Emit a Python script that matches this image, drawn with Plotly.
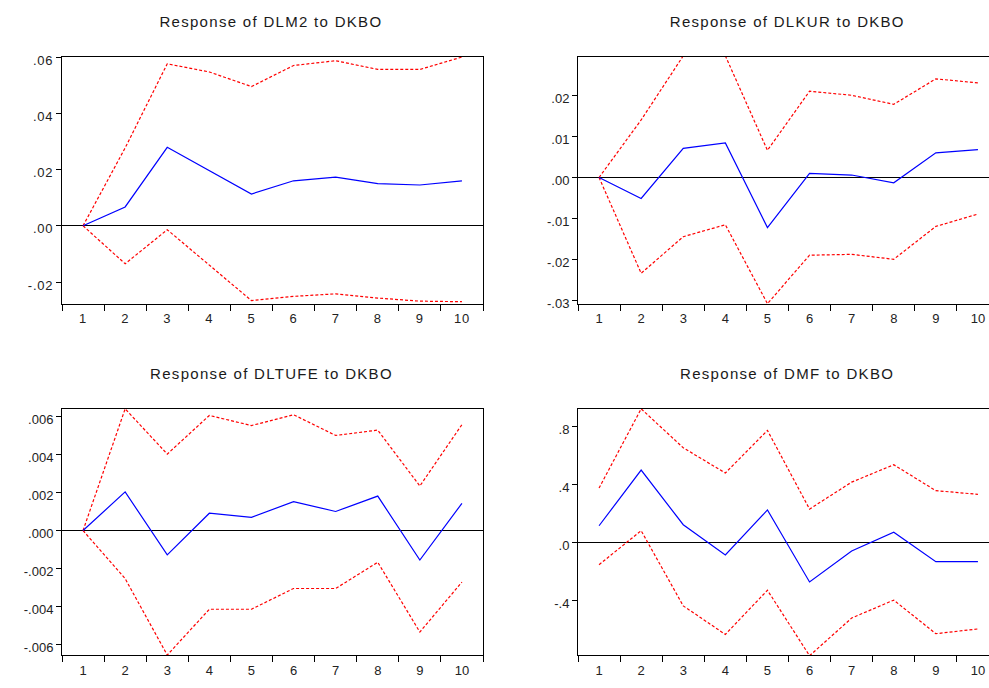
import plotly.graph_objects as go

W, H = 989, 688

periods = ["1", "2", "3", "4", "5", "6", "7", "8", "9", "10"]

titles = ["Response of DLM2 to DKBO", "Response of DLKUR to DKBO",
          "Response of DLTUFE to DKBO", "Response of DMF to DKBO"]

dlm2_resp = [0, 0.0067, 0.0279, 0.0197, 0.0113, 0.0160, 0.0173, 0.0150, 0.0145, 0.0160]
dlm2_upper = [0, 0.0277, 0.0576, 0.0547, 0.0495, 0.0570, 0.0587, 0.0556, 0.0556, 0.0600]
dlm2_lower = [0, -0.0135, -0.0014, -0.0140, -0.0266, -0.0251, -0.0242, -0.0257, -0.0268, -0.0270]

dlkur_resp = [0, -0.0051, 0.0071, 0.0084, -0.0122, 0.0010, 0.0006, -0.0013, 0.0060, 0.0068]
dlkur_upper = [0, 0.0140, 0.0296, 0.0296, 0.0066, 0.0210, 0.0200, 0.0178, 0.0240, 0.0230]
dlkur_lower = [0, -0.0233, -0.0144, -0.0115, -0.0307, -0.0189, -0.0187, -0.0199, -0.0119, -0.0089]

dltufe_resp = [0, 0.00203, -0.00128, 0.00091, 0.00069, 0.00152, 0.00100, 0.00181, -0.00155, 0.00143]
dltufe_upper = [0, 0.00640, 0.00402, 0.00605, 0.00552, 0.00609, 0.00500, 0.00528, 0.00234, 0.00557]
dltufe_lower = [0, -0.00253, -0.00655, -0.00414, -0.00414, -0.00305, -0.00305, -0.00167, -0.00534, -0.00271]

dmf_resp = [0.115, 0.499, 0.122, -0.086, 0.224, -0.273, -0.059, 0.070, -0.133, -0.133]
dmf_upper = [0.375, 0.922, 0.653, 0.479, 0.773, 0.230, 0.416, 0.536, 0.357, 0.332]
dmf_lower = [-0.154, 0.081, -0.438, -0.635, -0.330, -0.782, -0.522, -0.398, -0.630, -0.597]

ytick_vals = [
    [0.06, 0.04, 0.02, 0.0, -0.02],
    [0.02, 0.01, 0.0, -0.01, -0.02, -0.03],
    [0.006, 0.004, 0.002, 0.0, -0.002, -0.004, -0.006],
    [0.8, 0.4, 0.0, -0.4],
]
ytick_text = [
    [".06", ".04", ".02", ".00", "-.02"],
    [".02", ".01", ".00", "-.01", "-.02", "-.03"],
    [".006", ".004", ".002", ".000", "-.002", "-.004", "-.006"],
    [".8", ".4", ".0", "-.4"],
]
y_ranges = [[-0.0277, 0.0600], [-0.0307, 0.0293], [-0.00657, 0.00640], [-0.78, 0.922]]

series = [
    (dlm2_resp, dlm2_upper, dlm2_lower),
    (dlkur_resp, dlkur_upper, dlkur_lower),
    (dltufe_resp, dltufe_upper, dltufe_lower),
    (dmf_resp, dmf_upper, dmf_lower),
]

# pixel geometry of plot frames: (left, right, top, bottom)
frames = [(62, 483, 54, 305), (578, 989, 54, 305), (62, 483, 412, 663), (578, 989, 412, 663)]
title_pos = [(271, 18), (787, 18), (271, 376), (787, 376)]
cat_w = 42.1

fig = go.Figure()
layout = dict(width=W, height=H, margin=dict(l=0, r=0, t=0, b=0),
              paper_bgcolor="white", plot_bgcolor="white", showlegend=False,
              font=dict(family="Liberation Sans, Arial", color="#222222"))
annotations = []
for i in range(4):
    ax = "" if i == 0 else str(i + 1)
    resp, up, lo = series[i]
    for arr in (up, lo):
        fig.add_trace(go.Scatter(x=periods, y=arr, mode="lines",
                                 line=dict(color="#ff0000", width=1.2, dash="3px,2px"),
                                 xaxis="x" + ax, yaxis="y" + ax, hoverinfo="skip"))
    fig.add_trace(go.Scatter(x=periods, y=resp, mode="lines",
                             line=dict(color="#0000ff", width=1.2),
                             xaxis="x" + ax, yaxis="y" + ax))
    l, r, t, b = frames[i]
    xmax = -0.5 + (r - l) / cat_w
    right_cut = r >= W
    layout["xaxis" + ax] = dict(
        domain=[l / W, r / W], anchor="y" + ax, type="category",
        range=[-0.5, xmax], showline=True, linecolor="black", linewidth=1,
        mirror=True, ticks="outside", tickson="boundaries", ticklen=6,
        tickcolor="black", tickwidth=1, showgrid=False, zeroline=False,
        ticklabelstandoff=3,
        tickfont=dict(size=13, color="#222222"), fixedrange=True)
    layout["yaxis" + ax] = dict(
        domain=[(H - b) / H, (H - t) / H], anchor="x" + ax,
        range=y_ranges[i], showline=True, linecolor="black", linewidth=1,
        mirror=(not right_cut), ticks="outside", ticklen=5, tickcolor="black",
        tickwidth=1, tickmode="array", tickvals=ytick_vals[i], ticktext=ytick_text[i],
        showgrid=False, zeroline=True, zerolinecolor="black", zerolinewidth=1.2,
        ticklabelshift=3,
        tickfont=dict(size=13, color="#222222"), fixedrange=True)
    tx, ty = title_pos[i]
    annotations.append(dict(text=titles[i], x=tx / W, y=1 - ty / H, xref="paper", yref="paper",
                            xanchor="center", yanchor="middle", showarrow=False,
                            font=dict(size=15, color="#1a1a1a", family="Liberation Sans, Arial")))
layout["annotations"] = annotations
fig.update_layout(**layout)

post = """
document.querySelectorAll('.annotation-text').forEach(function(e){
  e.style.letterSpacing = '1.3px';
});
document.querySelectorAll('.xtick text, .ytick text').forEach(function(e){
  e.style.letterSpacing = '0.8px';
});
"""
fig.write_html("out.html", post_script=post)
